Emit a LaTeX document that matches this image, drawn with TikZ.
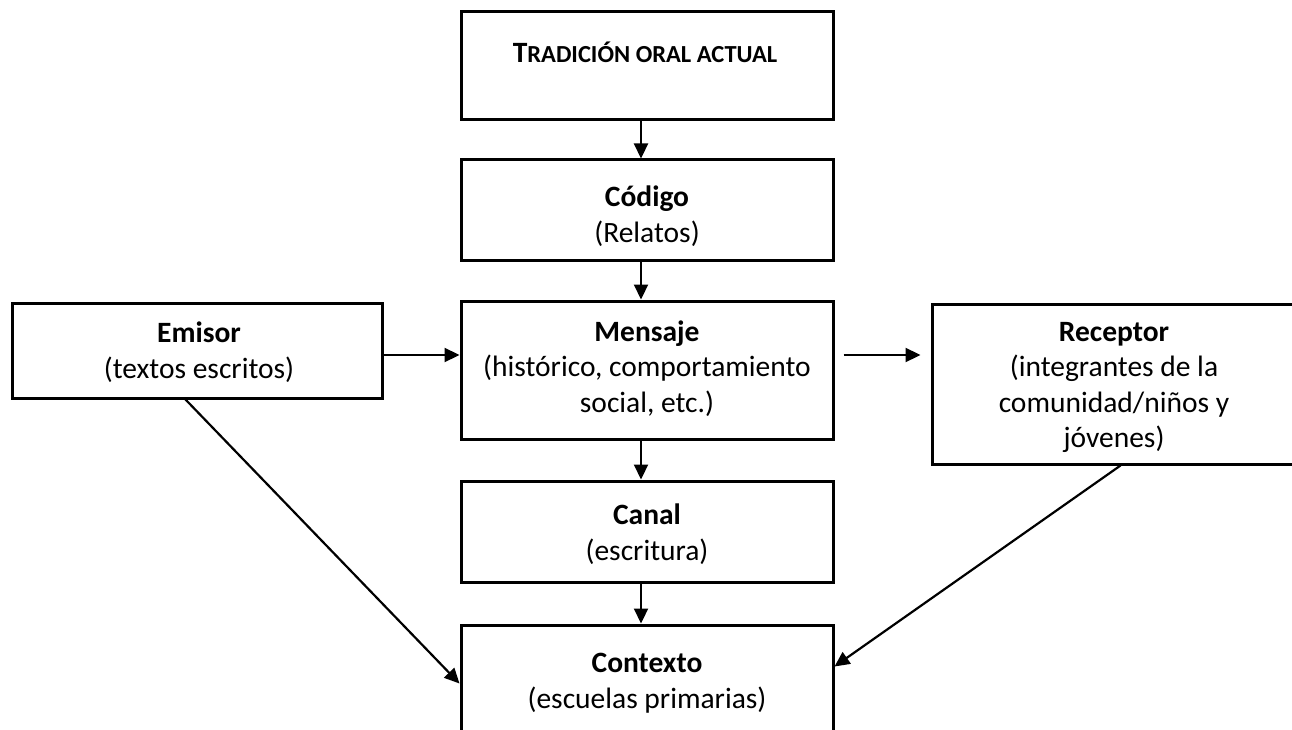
\documentclass[tikz,border=0pt]{standalone}
\usepackage{fontspec}
\setmainfont{Carlito}
\usetikzlibrary{arrows.meta}

\tikzset{
  box/.style={draw=black, line width=3pt, fill=none, inner sep=0pt},
  txt/.style={align=center, inner sep=0pt, font=\fontsize{29.5}{35.5}\selectfont},
  conn/.style={line width=2.2pt, -{Triangle[length=15pt,width=14pt]}},
}

\begin{document}
\begin{tikzpicture}[x=1pt,y=-1pt]
  \clip (0,0) rectangle (1292,730);
  \fill[white] (0,0) rectangle (1292,730);

  % boxes
  \node[box, minimum width=372pt, minimum height=108pt] (top) at (647,66) {};
  \node[box, minimum width=372pt, minimum height=100pt] (cod) at (647,210) {};
  \node[box, minimum width=372pt, minimum height=138pt] (men) at (647,370) {};
  \node[box, minimum width=372pt, minimum height=101pt] (can) at (647,531.5) {};
  \node[box, minimum width=372pt, minimum height=120pt] (con) at (647,685) {};
  \node[box, minimum width=370pt, minimum height=95pt] (emi) at (197,350.5) {};
  \node[box, minimum width=364pt, minimum height=160pt] (rec) at (1114,384) {};

  % labels (anchored at the baseline of their last line)
  \node[txt, anchor=base] (ttop) at (645,63)
    {\bfseries\fontsize{29.5}{35.5}\selectfont T\fontsize{24.5}{35.5}\selectfont RADICIÓN ORAL ACTUAL};
  \node[txt, anchor=base] (tcod) at (647,242) {\textbf{Código}\\(Relatos)};
  \node[txt, anchor=base] (tmen) at (647,412) {\textbf{Mensaje}\\(histórico, comportamiento\\social, etc.)};
  \node[txt, anchor=base] (tcan) at (647,560) {\textbf{Canal}\\(escritura)};
  \node[txt, anchor=base] (tcon) at (647,708) {\textbf{Contexto}\\(escuelas primarias)};
  \node[txt, anchor=base] (temi) at (199,378) {\textbf{Emisor}\\(textos escritos)};
  \node[txt, anchor=base] (trec) at (1114,447.5) {\textbf{Receptor}\\(integrantes de la\\comunidad/niños y\\jóvenes)};

  % vertical axis of the central column
  \coordinate (axis) at (641,0);

  % connectors
  \draw[conn] (top.south -| axis) -- (cod.north -| axis);
  \draw[conn] (cod.south -| axis) -- (men.north -| axis);
  \draw[conn] (men.south -| axis) -- (can.north -| axis);
  \draw[conn] (can.south -| axis) -- (con.north -| axis);
  \draw[conn] (emi.east |- 0,355) -- (men.west |- 0,355);
  \draw[conn, shorten <=9pt, shorten >=10pt] (men.east |- 0,355) -- (rec.west |- 0,355);
  \draw[conn] ([xshift=175pt]emi.south west) -- ([yshift=-60pt]con.north west);
  \draw[conn] ([xshift=190pt]rec.south west) -- ([yshift=-43pt]con.north east);
\end{tikzpicture}
\end{document}
